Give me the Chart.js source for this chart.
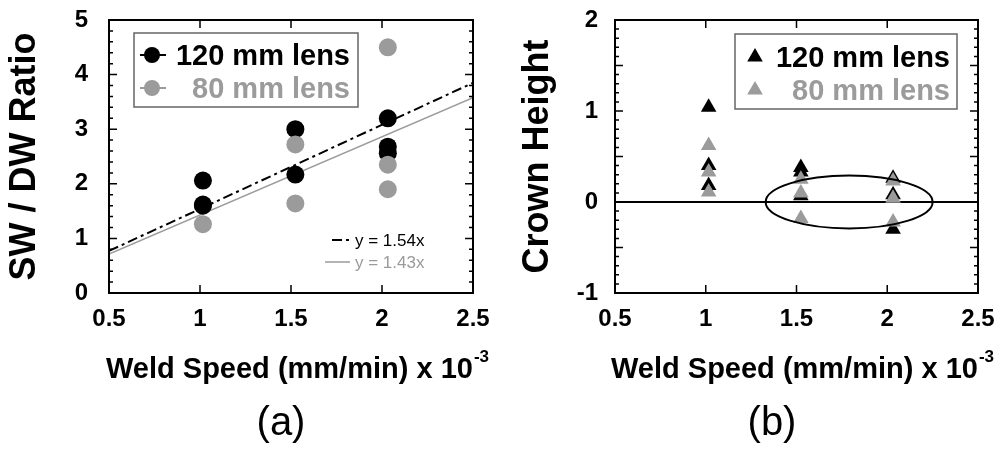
<!DOCTYPE html>
<html>
<head>
<meta charset="utf-8">
<script src="https://cdn.jsdelivr.net/npm/chart.js@4.4.1/dist/chart.umd.min.js"></script>
<style>
  html, body { margin: 0; padding: 0; background: #fff; }
  #wrap { position: relative; width: 1000px; height: 453px; }
  canvas { position: absolute; top: 0; }
</style>
</head>
<body>
<div id="wrap">
  <canvas id="chartA" width="500" height="453" style="left:0"></canvas>
  <canvas id="chartB" width="500" height="453" style="left:500px"></canvas>
</div>
<script>
// ---- data ----
const xTicks = [0.5, 1, 1.5, 2, 2.5];
const yTicksA = [0, 1, 2, 3, 4, 5];
const yTicksB = [-1, 0, 1, 2];

// (a) SW / DW ratio
const ratioX120 = [1.016, 1.016, 1.016, 1.524, 1.524, 2.032, 2.032, 2.032];
const ratioY120 = [2.06, 1.62, 1.60, 3.00, 2.17, 3.20, 2.68, 2.56];
const ratioX80 = [1.016, 1.524, 1.524, 2.032, 2.032, 2.032];
const ratioY80 = [1.26, 2.72, 1.64, 4.50, 2.35, 1.90];
// fitted lines, end points at x = 0.5 and 2.5
const fitX = [0.5, 2.5];
const fitY120 = [0.77, 3.85];
const fitY80 = [0.715, 3.575];

// (b) crown height
const crownX = [1.016, 1.016, 1.016, 1.524, 1.524, 1.524, 2.032, 2.032, 2.032];
const crownY120 = [1.04, 0.40, 0.18, 0.38, 0.33, 0.07, 0.26, 0.08, -0.30];
const crownY80 = [0.62, 0.33, 0.11, 0.25, 0.10, -0.18, 0.23, 0.04, -0.22];
const zeroX = [0.5, 2.5];
const zeroY = [0, 0];
// ellipse marking the 1.5 / 2 groups: centre and half axes in data units
const ringCentre = [1.79, 0];
const ringHalf = [0.46, 0.29];

const lensLabels = ['120 mm lens', '80 mm lens'];
const fitLabels = ['y = 1.54x', 'y = 1.43x'];
const xTitle = 'Weld Speed (mm/min) x 10';
const xTitleSup = '-3';

const FONT = "'Liberation Sans', Arial, Helvetica, sans-serif";
const BLACK = '#000000';
const GREY = '#9b9b9b';
Chart.defaults.font.family = FONT;

// inward tick steps per panel: [x major, y major, y minor]
const tickStepsA = [0.5, 1, 0.2];
const tickStepsB = [0.5, 0.5, 0.1];

function pts(xs, ys) {
  return xs.map((x, i) => ({ x: x, y: ys[i] }));
}

function tickList(sc, step, len) {
  const out = [];
  const n = Math.round((sc.max - sc.min) / step);
  for (let i = 0; i <= n; i++) out.push([sc.min + i * step, len]);
  return out;
}

// box round the plot with inward ticks on all four sides
function drawFrame(chart, steps) {
  const ctx = chart.ctx;
  const a = chart.chartArea;
  const xs = chart.scales.x, ys = chart.scales.y;
  const xt = tickList(xs, steps[0], 8);
  const yt = tickList(ys, steps[1], 8).concat(tickList(ys, steps[2], 4));
  ctx.save();
  ctx.strokeStyle = BLACK;
  ctx.lineWidth = 1.5;
  ctx.beginPath();
  for (const t of xt) {
    const p = xs.getPixelForValue(t[0]);
    ctx.moveTo(p, a.bottom); ctx.lineTo(p, a.bottom - t[1]);
    ctx.moveTo(p, a.top); ctx.lineTo(p, a.top + t[1]);
  }
  for (const t of yt) {
    const p = ys.getPixelForValue(t[0]);
    ctx.moveTo(a.left, p); ctx.lineTo(a.left + t[1], p);
    ctx.moveTo(a.right, p); ctx.lineTo(a.right - t[1], p);
  }
  ctx.stroke();
  ctx.lineWidth = 2;
  ctx.beginPath();
  ctx.rect(a.left, a.top, a.right - a.left, a.bottom - a.top);
  ctx.stroke();
  ctx.restore();
}

function marker(ctx, style, x, y, r, color) {
  ctx.fillStyle = color;
  ctx.beginPath();
  if (style === 'triangle') {
    for (let k = 0; k < 3; k++) {
      const ang = k * 2 * Math.PI / 3;
      const px = x + Math.sin(ang) * r, py = y - Math.cos(ang) * r;
      if (k === 0) ctx.moveTo(px, py); else ctx.lineTo(px, py);
    }
    ctx.closePath();
  } else {
    ctx.arc(x, y, r, 0, Math.PI * 2);
  }
  ctx.fill();
}

// boxed legend with right aligned labels
function drawLegend(chart, o) {
  const ctx = chart.ctx;
  const ds = chart.data.datasets;
  ctx.save();
  ctx.fillStyle = '#fff';
  ctx.fillRect(o.box[0], o.box[1], o.box[2] - o.box[0], o.box[3] - o.box[1]);
  ctx.strokeStyle = '#666';
  ctx.lineWidth = 1.5;
  ctx.strokeRect(o.box[0], o.box[1], o.box[2] - o.box[0], o.box[3] - o.box[1]);
  o.rows.forEach(row => {
    const d = ds[row.ds];
    const cy = row.y - 10;
    if (o.stub) {
      ctx.strokeStyle = d.backgroundColor;
      ctx.lineWidth = 2;
      ctx.beginPath();
      ctx.moveTo(o.stub[0], cy); ctx.lineTo(o.stub[1], cy);
      ctx.stroke();
    }
    marker(ctx, d.pointStyle, o.markX, cy, o.markR, d.backgroundColor);
    ctx.fillStyle = d.backgroundColor;
    ctx.font = 'bold 29px ' + FONT;
    ctx.textAlign = 'right';
    ctx.textBaseline = 'alphabetic';
    ctx.fillText(d.label, o.textRight, row.y);
  });
  ctx.restore();
}

// small key for the fitted lines
function drawFitKey(chart, o) {
  if (!o) return;
  const ctx = chart.ctx;
  const ds = chart.data.datasets;
  ctx.save();
  o.rows.forEach(row => {
    const d = ds[row.ds];
    ctx.strokeStyle = d.borderColor;
    ctx.lineWidth = d.borderWidth;
    ctx.setLineDash(d.borderDash || []);
    ctx.beginPath();
    ctx.moveTo(row.x0, row.y - 6); ctx.lineTo(o.x1, row.y - 6);
    ctx.stroke();
    ctx.setLineDash([]);
    ctx.fillStyle = d.borderColor;
    ctx.font = '17px ' + FONT;
    ctx.textAlign = 'left';
    ctx.textBaseline = 'alphabetic';
    ctx.fillText(d.label, o.textX, row.y);
  });
  ctx.restore();
}

function drawRing(chart) {
  const { ctx, scales } = chart;
  const cx = scales.x.getPixelForValue(ringCentre[0]);
  const cy = scales.y.getPixelForValue(ringCentre[1]);
  const rx = Math.abs(scales.x.getPixelForValue(ringCentre[0] + ringHalf[0]) - cx);
  const ry = Math.abs(scales.y.getPixelForValue(ringCentre[1] + ringHalf[1]) - cy);
  ctx.save();
  ctx.strokeStyle = BLACK;
  ctx.lineWidth = 2;
  ctx.beginPath();
  ctx.ellipse(cx, cy, rx, ry, 0, 0, Math.PI * 2);
  ctx.stroke();
  ctx.restore();
}

// x axis title with superscript, and the panel tag
function drawCaption(chart, o) {
  const ctx = chart.ctx;
  ctx.save();
  ctx.fillStyle = BLACK;
  ctx.textBaseline = 'alphabetic';
  ctx.textAlign = 'left';
  const mainFont = 'bold 29px ' + FONT, supFont = 'bold 17px ' + FONT;
  ctx.font = mainFont;
  const w1 = ctx.measureText(xTitle).width;
  ctx.font = supFont;
  const w2 = ctx.measureText(xTitleSup).width;
  const x0 = o.cx - (w1 + w2) / 2;
  ctx.font = mainFont;
  ctx.fillText(xTitle, x0, o.baseline);
  ctx.font = supFont;
  ctx.fillText(xTitleSup, x0 + w1 + 1, o.baseline - 16);
  ctx.font = '40px ' + FONT;
  ctx.textAlign = 'center';
  ctx.fillText(o.tag, o.tagX, o.tagBaseline);
  ctx.restore();
}

function makeDecor(spec) {
  return {
    id: 'decor',
    afterDatasetsDraw(chart) {
      if (spec.ring) drawRing(chart);
    },
    afterDraw(chart) {
      drawLegend(chart, spec.legend);
      drawFitKey(chart, spec.fitKey);
      drawCaption(chart, spec.caption);
      drawFrame(chart, spec.steps);
    }
  };
}

function axes(yMin, yMax, yTicks, yTitle, yWidth, yPad, titlePad) {
  const tickFont = { family: FONT, size: 24, weight: 'bold' };
  return {
    x: {
      type: 'linear', position: 'bottom', min: 0.5, max: 2.5,
      afterBuildTicks: s => { s.ticks = xTicks.map(v => ({ value: v })); },
      afterFit: s => { s.height = 160; s.paddingLeft = 0; s.paddingRight = 0; },
      grid: { display: false, drawTicks: false }, border: { display: false },
      ticks: { font: tickFont, color: BLACK, padding: 12, maxRotation: 0, autoSkip: false,
               callback: v => String(v) }
    },
    y: {
      type: 'linear', position: 'left', min: yMin, max: yMax,
      afterBuildTicks: s => { s.ticks = yTicks.map(v => ({ value: v })); },
      afterFit: s => { s.width = yWidth; s.paddingTop = 0; s.paddingBottom = 0; },
      grid: { display: false, drawTicks: false }, border: { display: false },
      ticks: { font: tickFont, color: BLACK, padding: yPad, autoSkip: false,
               callback: v => String(v) },
      title: { display: true, text: yTitle, color: BLACK,
               font: { family: FONT, size: 36, weight: 'bold' }, padding: { top: titlePad, bottom: 0 } }
    }
  };
}

function baseOptions(rightPad, scales) {
  return {
    responsive: false,
    animation: false,
    devicePixelRatio: 1,
    events: [],
    layout: { padding: { left: 0, right: rightPad, top: 20, bottom: 0 }, autoPadding: false },
    plugins: { legend: { display: false }, tooltip: { enabled: false } },
    scales: scales
  };
}

new Chart(document.getElementById('chartA').getContext('2d'), {
  type: 'scatter',
  data: {
    datasets: [{
      label: lensLabels[0], data: pts(ratioX120, ratioY120), pointStyle: 'circle',
      backgroundColor: BLACK, borderColor: BLACK, pointRadius: 9, borderWidth: 0, order: 2
    }, {
      label: lensLabels[1], data: pts(ratioX80, ratioY80), pointStyle: 'circle',
      backgroundColor: GREY, borderColor: GREY, pointRadius: 9, borderWidth: 0, order: 1
    }, {
      type: 'line', label: fitLabels[0], data: pts(fitX, fitY120), borderColor: BLACK,
      borderWidth: 2, borderDash: [10, 4, 3, 4], pointRadius: 0, order: 3
    }, {
      type: 'line', label: fitLabels[1], data: pts(fitX, fitY80), borderColor: GREY,
      borderWidth: 1.5, pointRadius: 0, order: 4
    }]
  },
  options: baseOptions(27, axes(0, 5, yTicksA, 'SW / DW Ratio', 109, 21, 3)),
  plugins: [makeDecor({
    steps: tickStepsA,
    legend: { box: [134, 33, 358, 107], rows: [{ ds: 0, y: 65 }, { ds: 1, y: 98 }],
              markX: 152, markR: 8, stub: [140, 166], textRight: 350 },
    fitKey: { rows: [{ ds: 2, y: 246, x0: 332 }, { ds: 3, y: 268, x0: 325 }], x1: 350, textX: 355 },
    ring: false,
    caption: { cx: 297, baseline: 378, tag: '(a)', tagX: 281, tagBaseline: 435 }
  })]
});

new Chart(document.getElementById('chartB').getContext('2d'), {
  type: 'scatter',
  data: {
    datasets: [{
      label: lensLabels[0], data: pts(crownX, crownY120), pointStyle: 'triangle',
      backgroundColor: BLACK, borderColor: BLACK, pointRadius: 9, borderWidth: 0, order: 2
    }, {
      label: lensLabels[1], data: pts(crownX, crownY80), pointStyle: 'triangle',
      backgroundColor: GREY, borderColor: GREY, pointRadius: 9, borderWidth: 0, order: 1
    }, {
      type: 'line', label: 'zero', data: pts(zeroX, zeroY), borderColor: BLACK,
      borderWidth: 2, pointRadius: 0, order: 3
    }]
  },
  options: baseOptions(22, axes(-1, 2, yTicksB, 'Crown Height', 115, 17, 16)),
  plugins: [makeDecor({
    steps: tickStepsB,
    legend: { box: [235, 34, 457, 109], rows: [{ ds: 0, y: 67 }, { ds: 1, y: 100 }],
              markX: 255, markR: 9, textRight: 450 },
    fitKey: null,
    ring: true,
    caption: { cx: 302, baseline: 378, tag: '(b)', tagX: 272, tagBaseline: 435 }
  })]
});
</script>
</body>
</html>
